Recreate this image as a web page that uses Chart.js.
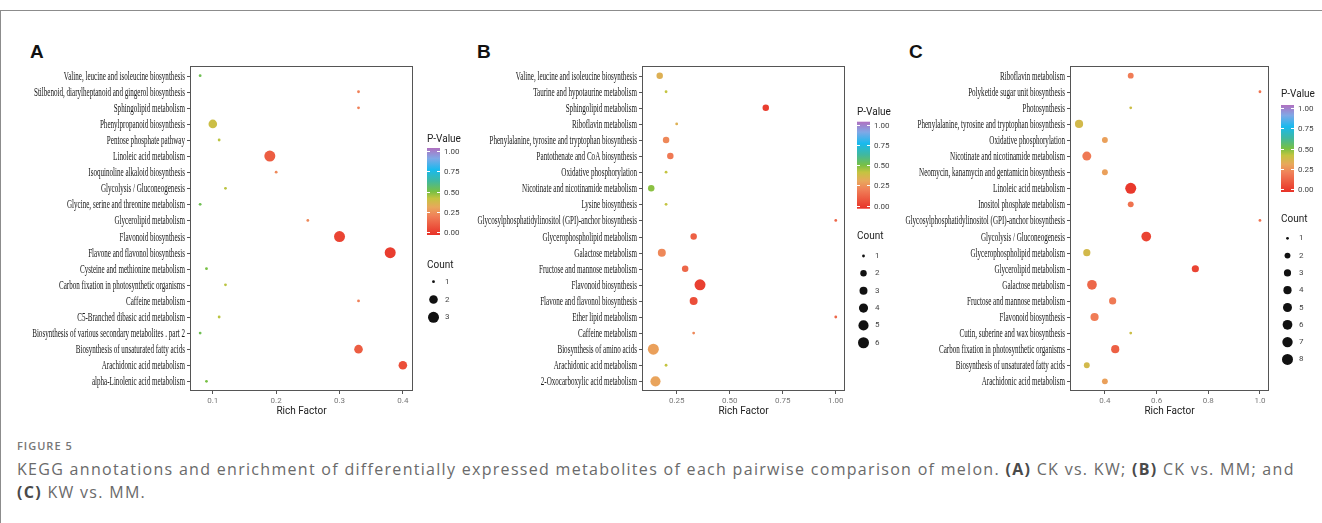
<!DOCTYPE html>
<html>
<head>
<meta charset="utf-8">
<script src="https://cdn.jsdelivr.net/npm/chart.js@4.4.1/dist/chart.umd.min.js"></script>
<style>
  body { margin: 0; width: 1322px; height: 523px; background: #fff; position: relative; overflow: hidden; }
  #frame { position: absolute; left: 0; top: 10px; width: 1400px; height: 600px; border-top: 1px solid #8c8c8c; border-left: 1px solid #8c8c8c; }
  .panel { position: absolute; top: 40px; }
  .letter { position: absolute; top: 42px; font: bold 19px "Liberation Sans", Arial, sans-serif; color: #111; line-height: 20px; }
  #cap { position: absolute; left: 17px; top: 437px; color: #6a6a6a; font-family: "Open Sans", sans-serif; }
  #cap .fig { font-size: 11px; font-weight: 600; letter-spacing: 1px; line-height: 18px; color: #777; }
  #cap .txt { font-size: 16px; letter-spacing: 1.3px; line-height: 23px; white-space: nowrap; margin-top: 3px; }
  #cap b { color: #4a4a4a; font-weight: 700; }
</style>
</head>
<body>
<div id="frame"></div>
<div class="letter" style="left:30px">A</div>
<div class="letter" style="left:477px">B</div>
<div class="letter" style="left:909px">C</div>
<div class="panel" style="left:20px"><canvas id="cA" width="460" height="385"></canvas></div>
<div class="panel" style="left:475px"><canvas id="cB" width="440" height="385"></canvas></div>
<div class="panel" style="left:905px"><canvas id="cC" width="417" height="385"></canvas></div>
<div id="cap">
  <div class="fig">FIGURE 5</div>
  <div class="txt">KEGG annotations and enrichment of differentially expressed metabolites of each pairwise comparison of melon. <b>(A)</b> CK vs. KW; <b>(B)</b> CK vs. MM; and<br><b>(C)</b> KW vs. MM.</div>
</div>
<script>
// panel A: CK vs. KW
const catsA = [
  'Valine, leucine and isoleucine biosynthesis',
  'Stilbenoid, diarylheptanoid and gingerol biosynthesis',
  'Sphingolipid metabolism',
  'Phenylpropanoid biosynthesis',
  'Pentose phosphate pathway',
  'Linoleic acid metabolism',
  'Isoquinoline alkaloid biosynthesis',
  'Glycolysis / Gluconeogenesis',
  'Glycine, serine and threonine metabolism',
  'Glycerolipid metabolism',
  'Flavonoid biosynthesis',
  'Flavone and flavonol biosynthesis',
  'Cysteine and methionine metabolism',
  'Carbon fixation in photosynthetic organisms',
  'Caffeine metabolism',
  'C5-Branched dibasic acid metabolism',
  'Biosynthesis of various secondary metabolites . part 2',
  'Biosynthesis of unsaturated fatty acids',
  'Arachidonic acid metabolism',
  'alpha-Linolenic acid metabolism'
];
const richA  = [0.08, 0.33, 0.33, 0.10, 0.11, 0.19, 0.20, 0.12, 0.08, 0.25, 0.30, 0.38, 0.09, 0.12, 0.33, 0.11, 0.08, 0.33, 0.40, 0.09];
const countA = [1, 1, 1, 2, 1, 3, 1, 1, 1, 1, 3, 3, 1, 1, 1, 1, 1, 2, 2, 1];
const pA     = [0.52, 0.22, 0.22, 0.40, 0.43, 0.12, 0.24, 0.43, 0.52, 0.24, 0.05, 0.03, 0.50, 0.43, 0.22, 0.43, 0.52, 0.12, 0.08, 0.50];

// panel B: CK vs. MM
const catsB = [
  'Valine, leucine and isoleucine biosynthesis',
  'Taurine and hypotaurine metabolism',
  'Sphingolipid metabolism',
  'Riboflavin metabolism',
  'Phenylalanine, tyrosine and tryptophan biosynthesis',
  'Pantothenate and CoA biosynthesis',
  'Oxidative phosphorylation',
  'Nicotinate and nicotinamide metabolism',
  'Lysine biosynthesis',
  'Glycosylphosphatidylinositol (GPI)-anchor biosynthesis',
  'Glycerophospholipid metabolism',
  'Galactose metabolism',
  'Fructose and mannose metabolism',
  'Flavonoid biosynthesis',
  'Flavone and flavonol biosynthesis',
  'Ether lipid metabolism',
  'Caffeine metabolism',
  'Biosynthesis of amino acids',
  'Arachidonic acid metabolism',
  '2-Oxocarboxylic acid metabolism'
];
const richB  = [0.17, 0.20, 0.67, 0.25, 0.20, 0.22, 0.20, 0.13, 0.20, 1.00, 0.33, 0.18, 0.29, 0.36, 0.33, 1.00, 0.33, 0.14, 0.20, 0.15];
const countB = [2, 1, 2, 1, 2, 2, 1, 2, 1, 1, 2, 3, 2, 6, 3, 1, 1, 6, 1, 5];
const pB     = [0.35, 0.42, 0.03, 0.35, 0.24, 0.20, 0.42, 0.48, 0.42, 0.15, 0.13, 0.24, 0.15, 0.04, 0.08, 0.15, 0.24, 0.30, 0.42, 0.31];

// panel C: KW vs. MM
const catsC = [
  'Riboflavin metabolism',
  'Polyketide sugar unit biosynthesis',
  'Photosynthesis',
  'Phenylalanine, tyrosine and tryptophan biosynthesis',
  'Oxidative phosphorylation',
  'Nicotinate and nicotinamide metabolism',
  'Neomycin, kanamycin and gentamicin biosynthesis',
  'Linoleic acid metabolism',
  'Inositol phosphate metabolism',
  'Glycosylphosphatidylinositol (GPI)-anchor biosynthesis',
  'Glycolysis / Gluconeogenesis',
  'Glycerophospholipid metabolism',
  'Glycerolipid metabolism',
  'Galactose metabolism',
  'Fructose and mannose metabolism',
  'Flavonoid biosynthesis',
  'Cutin, suberine and wax biosynthesis',
  'Carbon fixation in photosynthetic organisms',
  'Biosynthesis of unsaturated fatty acids',
  'Arachidonic acid metabolism'
];
const richC  = [0.50, 1.00, 0.50, 0.30, 0.40, 0.33, 0.40, 0.50, 0.50, 1.00, 0.56, 0.33, 0.75, 0.35, 0.43, 0.36, 0.50, 0.44, 0.33, 0.40];
const countC = [2, 1, 1, 4, 2, 5, 2, 8, 2, 1, 6, 3, 3, 6, 3, 4, 1, 4, 2, 2];
const pC     = [0.21, 0.18, 0.40, 0.38, 0.30, 0.20, 0.30, 0.02, 0.18, 0.18, 0.05, 0.38, 0.05, 0.15, 0.20, 0.21, 0.40, 0.13, 0.38, 0.30];

// axis ticks
const xTicksA = [0.1, 0.2, 0.3, 0.4];
const xLabelsA = ['0.1', '0.2', '0.3', '0.4'];
const xTicksB = [0.25, 0.5, 0.75, 1.0];
const xLabelsB = ['0.25', '0.50', '0.75', '1.00'];
const xTicksC = [0.4, 0.6, 0.8, 1.0];
const xLabelsC = ['0.4', '0.6', '0.8', '1.0'];
const pTicks = [1.0, 0.75, 0.5, 0.25, 0.0];
const pLabels = ['1.00', '0.75', '0.50', '0.25', '0.00'];
const countKeysA = [1, 2, 3];
const countKeysB = [1, 2, 3, 4, 5, 6];
const countKeysC = [1, 2, 3, 4, 5, 6, 7, 8];

// colour bar, low p = red, high p = purple
const stops = [
  [0.00, [232, 50, 40]],
  [0.22, [240, 128, 88]],
  [0.32, [232, 168, 92]],
  [0.42, [196, 196, 64]],
  [0.50, [120, 192, 68]],
  [0.62, [64, 184, 160]],
  [0.75, [24, 186, 238]],
  [0.88, [128, 168, 230]],
  [1.00, [176, 112, 192]]
];
function pColor(p) {
  for (let i = 1; i < stops.length; i++) {
    if (p <= stops[i][0]) {
      const a = stops[i - 1], b = stops[i];
      const t = (p - a[0]) / (b[0] - a[0]);
      const c = a[1].map((v, k) => Math.round(v + (b[1][k] - v) * t));
      return 'rgb(' + c.join(',') + ')';
    }
  }
  return 'rgb(' + stops[stops.length - 1][1].join(',') + ')';
}

// ggplot-like area scale
function rOf(c, max) {
  return 1.4 + 4.1 * Math.sqrt((c - 1) / (max - 1));
}

const SX = 0.615; // the labels in the figure are very narrow

function makePanel(cfg) {
  const canvas = document.getElementById(cfg.id);
  const W = canvas.width, H = canvas.height;
  const xh = 26;
  const lo = Math.min(...cfg.rich), hi = Math.max(...cfg.rich);
  const pad = (hi - lo) * 0.05;
  const maxC = cfg.keys[cfg.keys.length - 1];
  const n = cfg.cats.length;

  const pts = cfg.cats.map((c, i) => ({ x: cfg.rich[i], y: i, r: rOf(cfg.count[i], maxC) }));

  const drawExtras = {
    id: 'extras',
    afterDraw(chart) {
      const ctx = chart.ctx, a = chart.chartArea, ys = chart.scales.y;
      ctx.save();
      ctx.strokeStyle = '#555';
      ctx.lineWidth = 1;
      ctx.strokeRect(Math.round(a.left) + 0.5, Math.round(a.top) + 0.5, Math.round(a.right - a.left) - 1, Math.round(a.bottom - a.top) - 1);

      ctx.font = '11.5px "Liberation Serif", "Times New Roman", serif';
      ctx.fillStyle = '#151515';
      ctx.textAlign = 'right';
      ctx.textBaseline = 'middle';
      cfg.cats.forEach((c, i) => {
        const y = Math.round(ys.getPixelForValue(i)) + 0.5;
        ctx.beginPath();
        ctx.moveTo(a.left - 3, y);
        ctx.lineTo(a.left, y);
        ctx.stroke();
        ctx.save();
        ctx.translate(a.left - 5, y);
        ctx.scale(SX, 1);
        ctx.fillText(c, 0, 0);
        ctx.restore();
      });

      // legends
      const L = cfg.legend;
      ctx.textAlign = 'left';
      ctx.fillStyle = '#222';
      ctx.font = '10px Roboto, "Liberation Sans", sans-serif';
      ctx.fillText('P-Value', L.x, L.titleY);
      const bw = 13, bh = 87;
      const g = ctx.createLinearGradient(0, L.barTop + bh, 0, L.barTop);
      stops.forEach(s => g.addColorStop(s[0], 'rgb(' + s[1].join(',') + ')'));
      ctx.fillStyle = g;
      ctx.fillRect(L.x, L.barTop, bw, bh);
      ctx.strokeStyle = '#fff';
      ctx.font = '8px Roboto, "Liberation Sans", sans-serif';
      pTicks.forEach((v, k) => {
        const ty = Math.round(L.barTop + 3 + (1 - v) * (bh - 6)) + 0.5;
        ctx.beginPath();
        ctx.moveTo(L.x, ty); ctx.lineTo(L.x + 3, ty);
        ctx.moveTo(L.x + bw - 3, ty); ctx.lineTo(L.x + bw, ty);
        ctx.stroke();
        ctx.fillStyle = '#444';
        ctx.fillText(pLabels[k], L.x + bw + 4, ty);
      });

      ctx.fillStyle = '#222';
      ctx.font = '10px Roboto, "Liberation Sans", sans-serif';
      ctx.fillText('Count', L.x, L.countY);
      ctx.font = '8px Roboto, "Liberation Sans", sans-serif';
      cfg.keys.forEach((c, k) => {
        const cy = L.dotY0 + k * L.step;
        ctx.fillStyle = '#111';
        ctx.beginPath();
        ctx.arc(L.x + 6.5, cy, rOf(c, maxC), 0, Math.PI * 2);
        ctx.fill();
        ctx.fillStyle = '#444';
        ctx.fillText(String(c), L.x + 18, cy);
      });
      ctx.restore();
    }
  };

  new Chart(canvas, {
    type: 'bubble',
    data: {
      datasets: [{
        data: pts,
        backgroundColor: cfg.p.map(pColor),
        borderWidth: 0,
        hoverBorderWidth: 0
      }]
    },
    options: {
      responsive: false,
      animation: false,
      devicePixelRatio: 1,
      layout: { padding: { left: 0, top: cfg.plot.top, right: W - cfg.plot.right, bottom: H - cfg.plot.bottom - xh } },
      plugins: { legend: { display: false }, tooltip: { enabled: false } },
      scales: {
        x: {
          type: 'linear',
          min: lo - pad,
          max: hi + pad,
          afterBuildTicks: s => { s.ticks = cfg.xTicks.map(v => ({ value: v })); },
          afterFit: s => { s.height = xh; },
          ticks: {
            padding: 2,
            color: '#777',
            font: { family: 'Roboto, "Liberation Sans", sans-serif', size: 8 },
            callback: (v, i) => cfg.xLabels[i]
          },
          grid: { display: true, drawOnChartArea: false, drawTicks: true, tickLength: 3, color: '#555' },
          border: { display: false },
          title: {
            display: true, text: 'Rich Factor', color: '#222',
            font: { family: 'Roboto, "Liberation Sans", sans-serif', size: 10 },
            padding: { top: 0, bottom: 0 }
          }
        },
        y: {
          type: 'linear',
          reverse: true,
          min: -0.6,
          max: n - 1 + 0.6,
          afterFit: s => { s.width = cfg.plot.left; },
          ticks: { display: false },
          grid: { display: false },
          border: { display: false }
        }
      }
    },
    plugins: [drawExtras]
  });
}

makePanel({
  id: 'cA', cats: catsA, rich: richA, count: countA, p: pA, keys: countKeysA,
  xTicks: xTicksA, xLabels: xLabelsA,
  plot: { left: 170, right: 393, top: 26, bottom: 351 },
  legend: { x: 407, titleY: 99, barTop: 108, countY: 225, dotY0: 241.7, step: 17.8 }
});
makePanel({
  id: 'cB', cats: catsB, rich: richB, count: countB, p: pB, keys: countKeysB,
  xTicks: xTicksB, xLabels: xLabelsB,
  plot: { left: 167, right: 370, top: 26, bottom: 351 },
  legend: { x: 382, titleY: 72, barTop: 81.7, countY: 196, dotY0: 216, step: 17.35 }
});
makePanel({
  id: 'cC', cats: catsC, rich: richC, count: countC, p: pC, keys: countKeysC,
  xTicks: xTicksC, xLabels: xLabelsC,
  plot: { left: 165, right: 364, top: 26, bottom: 351 },
  legend: { x: 376, titleY: 54.3, barTop: 65, countY: 179.3, dotY0: 198.3, step: 17.3 }
});
</script>
</body>
</html>
